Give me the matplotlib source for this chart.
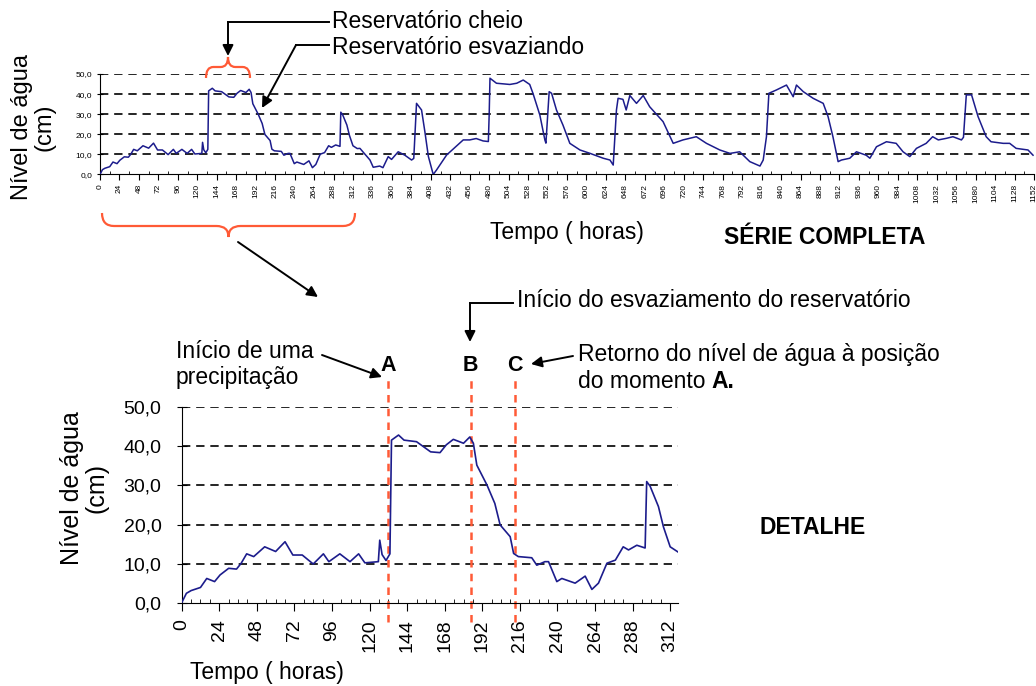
import numpy as np
import matplotlib.pyplot as plt
from matplotlib.path import Path
from matplotlib.patches import PathPatch, FancyArrowPatch
from matplotlib.lines import Line2D

plt.rcParams['font.family'] = ['Liberation Sans Narrow', 'Liberation Sans', 'DejaVu Sans']

# water level series (hours, cm)
hours = [0, 3, 6, 12, 16, 21, 24.5, 30, 35, 38, 41.5, 46, 53, 60, 66, 71, 77, 84,
         90.5, 94, 101, 107.5, 113, 117, 125.6, 126.5, 128, 130.5, 133, 134, 138.5, 142,
         150, 159, 165, 169, 173.5, 180, 184, 186.3, 188.5, 195, 200, 203.4, 209.8, 212,
         215, 223.6, 226.8, 232, 234.3, 239.6, 242.8, 251.3, 257.7, 262, 266.2, 271.6,
         277, 282, 285.4, 290.7, 296, 297, 299.2, 304.5, 307.7, 312, 317.3,
         320.6, 333, 337, 345, 349, 355.5, 359.6, 367.8, 376, 384.3, 387, 390.4, 396.6,
         400.7, 405, 411, 415, 427.5, 448, 456, 464, 472.5, 479, 480, 481, 489, 505.5,
         514, 522, 530, 534, 542.5, 548.7, 550, 554, 557, 563, 571, 579.5, 592, 604.5,
         620.6, 629, 633, 637, 639, 645, 649, 653.5, 661.7, 670, 678, 694.5, 707, 719,
         735.5, 748, 764.5, 777, 789, 801.5, 814, 818, 822, 825, 834, 846.7, 855, 859,
         867.5, 879.6, 892, 898, 904, 910.4, 914.5, 924.8, 933, 945, 949.6, 957.7, 970,
         982, 990.5, 998.8, 1007, 1019, 1027, 1034, 1044, 1052, 1062.5, 1065, 1068.5,
         1075, 1083, 1093, 1099, 1114, 1122, 1130, 1144.6, 1150.8]
level = [0, 2.4, 3.1, 3.9, 6.2, 5.4, 7.1, 8.8, 8.6, 10.1, 12.5, 11.8, 14.3, 13.1, 15.6, 12.2, 12.2, 9.9,
         12.5, 10.5, 12.5, 10.5, 12.5, 10.2, 10.5, 16.0, 12.3, 10.8, 12.5, 41.6, 42.9, 41.6,
         41.2, 38.6, 38.4, 40.4, 41.8, 40.8, 42.4, 40.8, 35.2, 30.1, 25.4, 19.9, 16.9, 12.6,
         11.8, 11.5, 9.6, 10.5, 10.5, 5.4, 6.2, 5.0, 6.8, 3.4, 5.0, 10.1,
         10.9, 14.3, 13.5, 14.7, 14.0, 31.0, 29.8, 24.6, 19.4, 14.3, 12.9,
         13.0, 7.2, 3.6, 4.2, 3.4, 8.9, 7.5, 11.3, 9.6, 7.2, 8.0, 35.4, 32.1,
         21.3, 9.0, 0.0, 2.2, 9.7, 17.2, 17.2, 17.9, 16.7, 16.4, 29.6, 47.9, 45.4, 44.8,
         45.4, 47.0, 44.8, 40.4, 29.6, 17.2, 15.6, 41.2, 40.4, 32.1, 24.6, 15.5, 12.2, 10.5,
         8.1, 7.2, 4.7, 32.1, 37.9, 37.4, 32.1, 39.3, 35.4, 39.3, 33.7, 26.3, 15.5, 17.2,
         18.8, 15.5, 12.2, 10.5, 11.3, 6.4, 4.2, 7.2, 18.8, 40.4, 42.0, 44.5, 38.7, 44.5,
         41.2, 37.9, 35.4, 28.8, 18.8, 6.4, 7.2, 8.1, 11.3, 9.6, 8.1, 13.8, 16.3,
         15.5, 11.3, 8.9, 13.0, 15.5, 18.8, 17.2, 18.0, 18.8, 17.2, 18.5, 39.6,
         39.6, 28.8, 18.8, 16.3, 15.5, 15.5, 13.0, 12.2, 9.6]

marks = ['A', 'B', 'C']
mark_hours = [132, 184.5, 213]

y_ticks = [0, 10, 20, 30, 40, 50]
y_labels = ['0,0', '10,0', '20,0', '30,0', '40,0', '50,0']
top_xticks = list(range(0, 1153, 24))
det_xticks = list(range(0, 313, 24))

W, H = 1036, 686
navy = '#1c1c8c'
red = '#ff5a36'
dash = (0, (5, 3.5))
fs = 16.5


def fx(x):
    return x / W


def fy(y):
    return 1 - y / H


fig = plt.figure(figsize=(W / 100, H / 100), dpi=100)

# ---------------- full series ----------------
ax1 = fig.add_axes([fx(100), fy(174.5), 934 / W, 100.5 / H])
for y in y_ticks[1:]:
    ax1.axhline(y, color='k', ls=dash, lw=1.2, zorder=1)
ax1.plot(hours, level, color=navy, lw=1.1, zorder=3)
ax1.set_xlim(0, 1152)
ax1.set_ylim(0, 50)
ax1.set_yticks(y_ticks)
ax1.set_yticklabels(y_labels, fontsize=6)
ax1.set_xticks(top_xticks)
ax1.set_xticklabels([str(t) for t in top_xticks], fontsize=6, rotation=90)
ax1.set_xticks(np.arange(0, 1153, 12), minor=True)
ax1.tick_params(axis='y', direction='inout', length=5, pad=3)
ax1.tick_params(axis='x', which='major', direction='out', length=4, pad=3)
ax1.tick_params(axis='x', which='minor', direction='in', length=2)
for s in ['top', 'right']:
    ax1.spines[s].set_visible(False)

# ---------------- detail ----------------
det_h = [h for h in hours if h <= 318]
det_v = level[:len(det_h)]
ax2 = fig.add_axes([fx(181.7), fy(602.7), 496.3 / W, 195.4 / H])
for y in y_ticks[1:]:
    ax2.axhline(y, color='k', ls=dash, lw=1.2, zorder=1)
ax2.plot(det_h, det_v, color=navy, lw=1.2, zorder=3)
ax2.set_xlim(0, 317)
ax2.set_ylim(0, 50)
ax2.set_yticks(y_ticks)
ax2.set_yticklabels(y_labels, fontsize=14)
ax2.set_xticks(det_xticks)
ax2.set_xticklabels([str(t) for t in det_xticks], fontsize=14, rotation=90)
ax2.set_xticks(np.arange(0, 318, 6), minor=True)
ax2.tick_params(axis='y', direction='inout', length=7, pad=11)
ax2.tick_params(axis='x', which='major', direction='out', length=6, pad=6)
ax2.tick_params(axis='x', which='minor', direction='in', length=3)
for s in ['top', 'right']:
    ax2.spines[s].set_visible(False)

for m, h in zip(marks, mark_hours):
    ax2.plot([h, h], [-4.9, 58.3], color=red, ls=(0, (3, 2.5)), lw=1.8,
             clip_on=False, zorder=2)
    ax2.text(h, 60.6, m, fontsize=15.5, fontweight='bold', ha='center', va='center',
             family=['Liberation Sans'])

# ---------------- texts ----------------
fig.text(fx(33), fy(127), 'Nível de água\n(cm)', rotation=90, fontsize=17,
         ha='center', va='center', multialignment='center', linespacing=1.05)
fig.text(fx(84), fy(488), 'Nível de água\n(cm)', rotation=90, fontsize=18,
         ha='center', va='center', multialignment='center', linespacing=1.05)
fig.text(fx(567), fy(233), 'Tempo ( horas)', fontsize=fs, ha='center', va='center')
fig.text(fx(267), fy(672), 'Tempo ( horas)', fontsize=fs, ha='center', va='center')
fig.text(fx(825), fy(238), 'SÉRIE COMPLETA', fontsize=16.5, fontweight='bold',
         ha='center', va='center', family=['Liberation Sans'])
fig.text(fx(813), fy(527), 'DETALHE', fontsize=16.5, fontweight='bold',
         ha='center', va='center', family=['Liberation Sans'])

fig.text(fx(332), fy(21), 'Reservatório cheio', fontsize=fs, ha='left', va='center')
fig.text(fx(332), fy(48), 'Reservatório esvaziando', fontsize=fs, ha='left', va='center')
fig.text(fx(517), fy(301), 'Início do esvaziamento do reservatório', fontsize=fs,
         ha='left', va='center')
fig.text(fx(176), fy(352), 'Início de uma', fontsize=fs, ha='left', va='center')
fig.text(fx(176), fy(378), 'precipitação', fontsize=fs, ha='left', va='center')
fig.text(fx(578), fy(355), 'Retorno do nível de água à posição', fontsize=fs,
         ha='left', va='center')
t = fig.text(fx(578), fy(381), 'do momento ', fontsize=fs, ha='left', va='center')
bb = t.get_window_extent(renderer=fig.canvas.get_renderer())
fig.text(bb.x1 / W, fy(381), 'A.', fontsize=fs, fontweight='bold', ha='left',
         va='center', family=['Liberation Sans'])


# ---------------- arrows and braces ----------------
def seg(p, q):
    fig.add_artist(Line2D([fx(p[0]), fx(q[0])], [fy(p[1]), fy(q[1])],
                          color='k', lw=1.4, transform=fig.transFigure))


def arrow(p, q):
    fig.add_artist(FancyArrowPatch((fx(p[0]), fy(p[1])), (fx(q[0]), fy(q[1])),
                                   transform=fig.transFigure, arrowstyle='-|>',
                                   mutation_scale=16, color='k', lw=1.4,
                                   shrinkA=0, shrinkB=0))


def brace(x1, x2, y_end, y_mid, y_tip):
    xm = (x1 + x2) / 2
    r = min(12, (x2 - x1) / 6)
    pts = [(x1, y_end), (x1, y_mid), (x1 + r, y_mid), (xm - r, y_mid), (xm, y_mid),
           (xm, y_tip), (xm, y_mid), (xm + r, y_mid), (x2 - r, y_mid), (x2, y_mid),
           (x2, y_end)]
    codes = [Path.MOVETO, Path.CURVE3, Path.CURVE3, Path.LINETO, Path.CURVE3,
             Path.CURVE3, Path.CURVE3, Path.CURVE3, Path.LINETO, Path.CURVE3,
             Path.CURVE3]
    verts = [(fx(a), fy(b)) for a, b in pts]
    fig.add_artist(PathPatch(Path(verts, codes), transform=fig.transFigure,
                             fill=False, edgecolor=red, lw=1.6))


seg((329, 22), (228, 22))
arrow((228, 22), (228, 56))
seg((329, 45), (296, 45))
arrow((296, 45), (262, 108))
brace(206, 250, 78, 67, 57)
brace(102, 355, 213, 226, 237)
arrow((238, 242), (318, 297))
seg((513, 303), (470, 303))
arrow((470, 303), (470, 342))
arrow((322, 355), (382, 377))
arrow((573, 356), (531, 364))

fig.savefig('out.png', dpi=100)
